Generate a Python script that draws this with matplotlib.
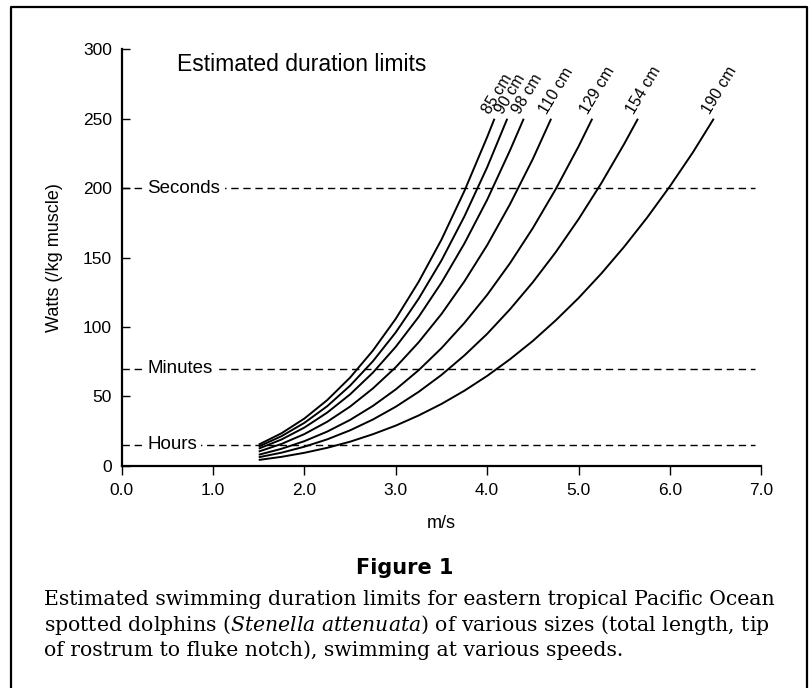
import matplotlib
matplotlib.use("Agg")
import matplotlib.pyplot as plt
from matplotlib.lines import Line2D

plt.rcParams["font.family"] = ["Liberation Sans", "DejaVu Sans"]
plt.rcParams["mathtext.fontset"] = "dejavuserif"

# speeds (m/s) where the curves were read, shared by all sizes
speeds = [1.5, 1.75, 2.0, 2.25, 2.5, 2.75, 3.0, 3.25, 3.5, 3.75,
          4.0, 4.25, 4.5, 4.75, 5.0, 5.25, 5.5, 5.75, 6.0, 6.25]

# watts per kg muscle
w_85 = [15.2, 23.4, 34.0, 47.3, 63.5, 83.0, 105.9, 132.5, 162.9, 197.8, 236.8]
w_90 = [13.8, 21.3, 30.9, 42.9, 57.7, 75.3, 96.1, 120.3, 147.9, 179.5, 215.0]
w_98 = [12.3, 18.9, 27.5, 38.3, 51.4, 67.1, 85.7, 107.2, 131.9, 160.0, 191.6, 227.2]
w_110 = [10.2, 15.7, 22.8, 31.7, 42.6, 55.7, 71.0, 88.9, 109.3, 132.7, 158.9,
         188.4, 221.0]
w_129 = [7.9, 12.2, 17.7, 24.6, 33.0, 43.1, 55.0, 68.8, 84.7, 102.8, 123.1,
         145.9, 171.2, 199.2, 230.0]
w_154 = [6.1, 9.4, 13.7, 19.0, 25.5, 33.3, 42.5, 53.2, 65.4, 79.4, 95.0,
         112.7, 132.2, 153.8, 177.6, 203.6, 231.9]
w_190 = [4.15, 6.4, 9.3, 12.9, 17.3, 22.7, 28.9, 36.2, 44.5, 54.0, 64.7,
         76.7, 89.9, 104.7, 120.8, 138.5, 157.8, 178.7, 201.3, 225.6]

sizes = ["85 cm", "90 cm", "98 cm", "110 cm", "129 cm", "154 cm", "190 cm"]
watts = [w_85, w_90, w_98, w_110, w_129, w_154, w_190]
end_speed = [4.08, 4.22, 4.40, 4.70, 5.15, 5.65, 6.48]
end_watts = 250

limit_names = ["Seconds", "Minutes", "Hours"]
limit_watts = [200, 70, 15]
limit_end = 6.93

caption = [
    "Estimated swimming duration limits for eastern tropical Pacific Ocean",
    r"spotted dolphins ($\mathit{Stenella\ attenuata}$) of various sizes (total length, tip",
    "of rostrum to fluke notch), swimming at various speeds.",
]

fig = plt.figure(figsize=(8.09, 6.88), dpi=100)
ax = fig.add_axes([0.1504, 0.3231, 0.7906, 0.6052])

for name, level in zip(limit_names, limit_watts):
    ax.plot([0, limit_end], [level, level], color="black", lw=1.0,
            dashes=(5.3, 3.4), zorder=1)
    ax.text(0.283, level, name, fontsize=13.5, va="center", ha="left",
            bbox=dict(facecolor="white", edgecolor="none", pad=3), zorder=2)

for label, w, xe in zip(sizes, watts, end_speed):
    xs = speeds[:len(w)] + [xe]
    ys = w + [end_watts]
    ax.plot(xs, ys, color="black", lw=1.4, zorder=3, solid_capstyle="butt",
            solid_joinstyle="round")
    ax.annotate(label, (xe, end_watts), xytext=(-3, 3), textcoords="offset points",
                rotation=59, rotation_mode="anchor", ha="left", va="baseline",
                fontsize=11.5)

ax.text(0.605, 284.7, "Estimated duration limits", fontsize=16.5, va="baseline")

ax.set_xlim(0, 7)
ax.set_ylim(0, 300)
ax.set_xticks([0, 1, 2, 3, 4, 5, 6, 7])
ax.set_xticklabels([f"{v:.1f}" for v in range(8)])
ax.set_yticks([0, 50, 100, 150, 200, 250, 300])
ax.spines["top"].set_visible(False)
ax.spines["right"].set_visible(False)
ax.spines["left"].set_linewidth(1.6)
ax.spines["bottom"].set_linewidth(1.6)
ax.tick_params(axis="y", direction="in", length=6, width=1.0, pad=7, labelsize=12.5)
ax.tick_params(axis="x", direction="out", length=6.5, width=1.0, pad=6, labelsize=12.5)
ax.set_xlabel("m/s", fontsize=13, labelpad=12)
ax.set_ylabel("Watts (/kg muscle)", fontsize=13, labelpad=14)

fig.text(0.5, 0.1652, "Figure 1", ha="center", va="baseline", fontsize=15,
         fontweight="bold", family=["Liberation Sans Narrow", "DejaVu Sans"])
for i, line in enumerate(caption):
    fig.text(0.0544, 0.1206 - i * 0.0371, line, ha="left", va="baseline",
             fontsize=14.7, family=["DejaVu Serif"])

# page frame (bottom edge runs off the image)
fig.add_artist(Line2D([0.0136, 0.0136, 0.9975, 0.9975], [0.0, 0.9903, 0.9903, 0.0],
                      transform=fig.transFigure, color="black", lw=1.6))

fig.savefig("out.png", dpi=100)
